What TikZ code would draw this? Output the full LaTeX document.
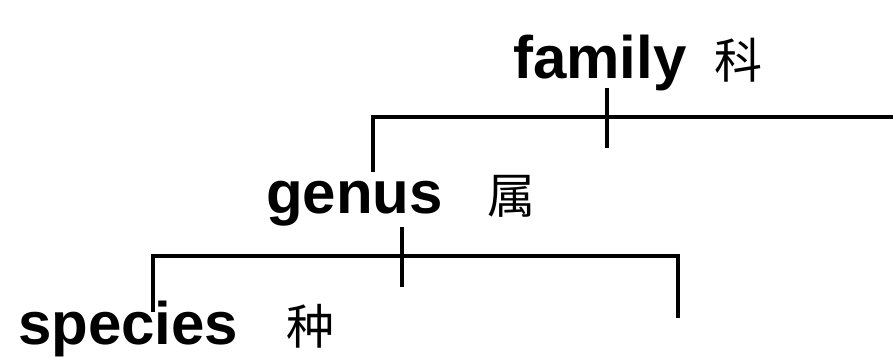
\documentclass[tikz,border=0pt]{standalone}
\usepackage{fontspec}
\setmainfont{Liberation Sans}
\newfontfamily\cjk{Noto Sans CJK SC}
\usetikzlibrary{positioning, calc}
\tikzset{
  rank/.style={inner sep=0pt, anchor=base west,
               font=\fontsize{60}{60}\selectfont\bfseries},
  han/.style={inner sep=0pt, anchor=base west,
              font=\fontsize{48}{48}\selectfont\cjk},
}

\begin{document}
\begin{tikzpicture}[x=1pt, y=-1pt,
  brk/.style={line width=4pt},
]
  \useasboundingbox (0,0) rectangle (893,356);

  % rank names
  \node[rank] (family) at (513,78) {family};
  \node[han, right=27pt of family.base east, anchor=base west] (ke) {科};

  \node[rank] (genus) at (266,213) {genus};
  \node[han, right=44pt of genus.base east, anchor=base west] (shu) {属};

  \node[rank] (species) at (18,344) {species};
  \node[han, right=48pt of species.base east, anchor=base west] (zhong) {种};

  % brackets
  \coordinate (fambar) at (607,117);
  \coordinate (famleft) at (373,172);
  \coordinate (famright) at (893,117);
  \draw[brk] (famleft) |- (fambar) -- (famright);
  \draw[brk] ($(fambar)+(0,-29)$) -- ++(0,60);

  \coordinate (genbar) at (402,256);
  \coordinate (genleft) at (153,312);
  \coordinate (genright) at (678,318);
  \draw[brk] (genleft) |- (genbar) -| (genright);
  \draw[brk] ($(genbar)+(0,-29)$) -- ++(0,60);

\end{tikzpicture}
\end{document}
